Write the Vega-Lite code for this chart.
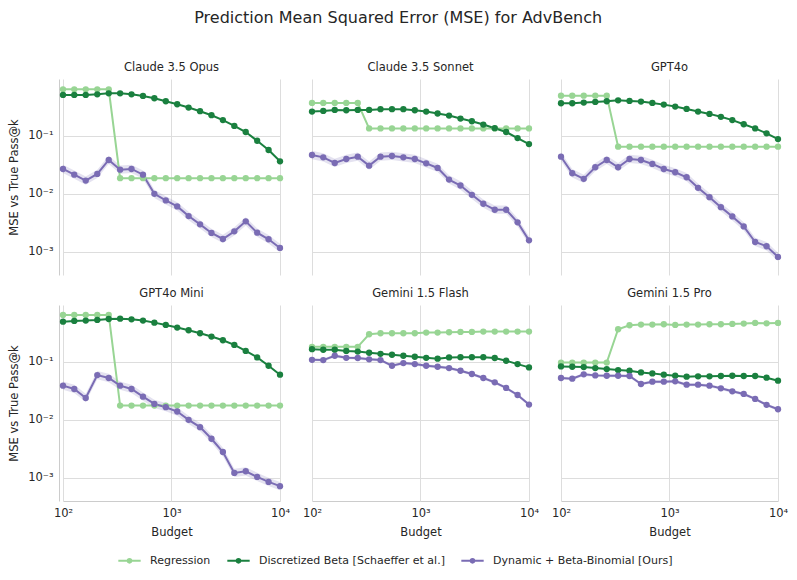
{
"$schema": "https://vega.github.io/schema/vega-lite/v6.json",
"title": {"text": "Prediction Mean Squared Error (MSE) for AdvBench", "fontSize": 16, "font": "DejaVu Sans", "fontWeight": "normal", "color": "#262626", "anchor": "middle", "offset": 36},
"padding": {"left": 8, "top": 9, "right": 5, "bottom": 5},
"data": {"values": [
{"m":"Claude 3.5 Opus","k":100,"a":0.63,"b":0.505,"c":0.0268,"lo":0.0228,"hi":0.0316},
{"m":"Claude 3.5 Opus","k":127,"a":0.63,"b":0.505,"c":0.0214,"lo":0.0182,"hi":0.0253},
{"m":"Claude 3.5 Opus","k":162,"a":0.63,"b":0.505,"c":0.0169,"lo":0.0144,"hi":0.0199},
{"m":"Claude 3.5 Opus","k":207,"a":0.63,"b":0.518,"c":0.022,"lo":0.0187,"hi":0.026},
{"m":"Claude 3.5 Opus","k":264,"a":0.63,"b":0.538,"c":0.0383,"lo":0.0326,"hi":0.0452},
{"m":"Claude 3.5 Opus","k":336,"a":0.0186,"b":0.538,"c":0.0261,"lo":0.0222,"hi":0.0308},
{"m":"Claude 3.5 Opus","k":428,"a":0.0186,"b":0.518,"c":0.0268,"lo":0.0228,"hi":0.0316},
{"m":"Claude 3.5 Opus","k":546,"a":0.0186,"b":0.485,"c":0.0214,"lo":0.0182,"hi":0.0253},
{"m":"Claude 3.5 Opus","k":695,"a":0.0186,"b":0.443,"c":0.01,"lo":0.0085,"hi":0.0118},
{"m":"Claude 3.5 Opus","k":886,"a":0.0186,"b":0.393,"c":0.00769,"lo":0.00654,"hi":0.00907},
{"m":"Claude 3.5 Opus","k":1129,"a":0.0186,"b":0.349,"c":0.00607,"lo":0.00516,"hi":0.00716},
{"m":"Claude 3.5 Opus","k":1438,"a":0.0186,"b":0.306,"c":0.00414,"lo":0.00352,"hi":0.00489},
{"m":"Claude 3.5 Opus","k":1833,"a":0.0186,"b":0.265,"c":0.00298,"lo":0.00253,"hi":0.00352},
{"m":"Claude 3.5 Opus","k":2336,"a":0.0186,"b":0.226,"c":0.00212,"lo":0.0018,"hi":0.0025},
{"m":"Claude 3.5 Opus","k":2976,"a":0.0186,"b":0.186,"c":0.00167,"lo":0.00142,"hi":0.00197},
{"m":"Claude 3.5 Opus","k":3793,"a":0.0186,"b":0.148,"c":0.00226,"lo":0.00192,"hi":0.00267},
{"m":"Claude 3.5 Opus","k":4833,"a":0.0186,"b":0.116,"c":0.00336,"lo":0.00286,"hi":0.00396},
{"m":"Claude 3.5 Opus","k":6159,"a":0.0186,"b":0.082,"c":0.00214,"lo":0.00182,"hi":0.00253},
{"m":"Claude 3.5 Opus","k":7848,"a":0.0186,"b":0.0568,"c":0.00165,"lo":0.0014,"hi":0.00195},
{"m":"Claude 3.5 Opus","k":10000,"a":0.0186,"b":0.0363,"c":0.00117,"lo":0.00099,"hi":0.00138},
{"m":"Claude 3.5 Sonnet","k":100,"a":0.368,"b":0.261,"c":0.0466,"lo":0.0396,"hi":0.055},
{"m":"Claude 3.5 Sonnet","k":127,"a":0.368,"b":0.268,"c":0.0425,"lo":0.0361,"hi":0.0502},
{"m":"Claude 3.5 Sonnet","k":162,"a":0.368,"b":0.279,"c":0.034,"lo":0.0289,"hi":0.0401},
{"m":"Claude 3.5 Sonnet","k":207,"a":0.368,"b":0.275,"c":0.0398,"lo":0.0338,"hi":0.047},
{"m":"Claude 3.5 Sonnet","k":264,"a":0.368,"b":0.279,"c":0.0436,"lo":0.0371,"hi":0.0514},
{"m":"Claude 3.5 Sonnet","k":336,"a":0.134,"b":0.279,"c":0.0306,"lo":0.026,"hi":0.0361},
{"m":"Claude 3.5 Sonnet","k":428,"a":0.134,"b":0.287,"c":0.0436,"lo":0.0371,"hi":0.0514},
{"m":"Claude 3.5 Sonnet","k":546,"a":0.134,"b":0.287,"c":0.0448,"lo":0.0381,"hi":0.0529},
{"m":"Claude 3.5 Sonnet","k":695,"a":0.134,"b":0.287,"c":0.0425,"lo":0.0361,"hi":0.0502},
{"m":"Claude 3.5 Sonnet","k":886,"a":0.134,"b":0.275,"c":0.0398,"lo":0.0338,"hi":0.047},
{"m":"Claude 3.5 Sonnet","k":1129,"a":0.134,"b":0.261,"c":0.0335,"lo":0.0285,"hi":0.0395},
{"m":"Claude 3.5 Sonnet","k":1438,"a":0.134,"b":0.242,"c":0.0279,"lo":0.0237,"hi":0.0329},
{"m":"Claude 3.5 Sonnet","k":1833,"a":0.134,"b":0.223,"c":0.0176,"lo":0.015,"hi":0.0208},
{"m":"Claude 3.5 Sonnet","k":2336,"a":0.134,"b":0.198,"c":0.0139,"lo":0.0118,"hi":0.0164},
{"m":"Claude 3.5 Sonnet","k":2976,"a":0.134,"b":0.178,"c":0.00962,"lo":0.00818,"hi":0.0114},
{"m":"Claude 3.5 Sonnet","k":3793,"a":0.134,"b":0.156,"c":0.00674,"lo":0.00573,"hi":0.00795},
{"m":"Claude 3.5 Sonnet","k":4833,"a":0.134,"b":0.135,"c":0.00532,"lo":0.00452,"hi":0.00628},
{"m":"Claude 3.5 Sonnet","k":6159,"a":0.134,"b":0.116,"c":0.00532,"lo":0.00452,"hi":0.00628},
{"m":"Claude 3.5 Sonnet","k":7848,"a":0.134,"b":0.0912,"c":0.00323,"lo":0.00275,"hi":0.00381},
{"m":"Claude 3.5 Sonnet","k":10000,"a":0.134,"b":0.072,"c":0.00158,"lo":0.00134,"hi":0.00186},
{"m":"GPT4o","k":100,"a":0.491,"b":0.363,"c":0.0436,"lo":0.0371,"hi":0.0514},
{"m":"GPT4o","k":127,"a":0.491,"b":0.363,"c":0.0226,"lo":0.0192,"hi":0.0267},
{"m":"GPT4o","k":162,"a":0.491,"b":0.373,"c":0.0181,"lo":0.0154,"hi":0.0214},
{"m":"GPT4o","k":207,"a":0.491,"b":0.383,"c":0.0287,"lo":0.0244,"hi":0.0339},
{"m":"GPT4o","k":264,"a":0.491,"b":0.393,"c":0.0383,"lo":0.0326,"hi":0.0452},
{"m":"GPT4o","k":336,"a":0.0648,"b":0.408,"c":0.0287,"lo":0.0244,"hi":0.0339},
{"m":"GPT4o","k":428,"a":0.0648,"b":0.398,"c":0.0398,"lo":0.0338,"hi":0.047},
{"m":"GPT4o","k":546,"a":0.0648,"b":0.388,"c":0.0383,"lo":0.0326,"hi":0.0452},
{"m":"GPT4o","k":695,"a":0.0648,"b":0.368,"c":0.0327,"lo":0.0278,"hi":0.0386},
{"m":"GPT4o","k":886,"a":0.0648,"b":0.344,"c":0.0268,"lo":0.0228,"hi":0.0316},
{"m":"GPT4o","k":1129,"a":0.0648,"b":0.318,"c":0.0235,"lo":0.02,"hi":0.0277},
{"m":"GPT4o","k":1438,"a":0.0648,"b":0.29,"c":0.0193,"lo":0.0164,"hi":0.0228},
{"m":"GPT4o","k":1833,"a":0.0648,"b":0.261,"c":0.0127,"lo":0.0108,"hi":0.015},
{"m":"GPT4o","k":2336,"a":0.0648,"b":0.238,"c":0.00877,"lo":0.00745,"hi":0.0103},
{"m":"GPT4o","k":2976,"a":0.0648,"b":0.212,"c":0.0059,"lo":0.00502,"hi":0.00696},
{"m":"GPT4o","k":3793,"a":0.0648,"b":0.186,"c":0.00408,"lo":0.00347,"hi":0.00481},
{"m":"GPT4o","k":4833,"a":0.0648,"b":0.158,"c":0.00275,"lo":0.00234,"hi":0.00325},
{"m":"GPT4o","k":6159,"a":0.0648,"b":0.134,"c":0.00148,"lo":0.00126,"hi":0.00175},
{"m":"GPT4o","k":7848,"a":0.0648,"b":0.11,"c":0.00125,"lo":0.00106,"hi":0.00148},
{"m":"GPT4o","k":10000,"a":0.0648,"b":0.0877,"c":0.00082,"lo":0.0007,"hi":0.00097},
{"m":"GPT4o Mini","k":100,"a":0.64,"b":0.491,"c":0.0388,"lo":0.033,"hi":0.0458},
{"m":"GPT4o Mini","k":127,"a":0.64,"b":0.505,"c":0.034,"lo":0.0289,"hi":0.0401},
{"m":"GPT4o Mini","k":162,"a":0.64,"b":0.512,"c":0.0238,"lo":0.0202,"hi":0.0281},
{"m":"GPT4o Mini","k":207,"a":0.64,"b":0.525,"c":0.059,"lo":0.0502,"hi":0.0696},
{"m":"GPT4o Mini","k":264,"a":0.64,"b":0.546,"c":0.0525,"lo":0.0446,"hi":0.062},
{"m":"GPT4o Mini","k":336,"a":0.0176,"b":0.553,"c":0.0388,"lo":0.033,"hi":0.0458},
{"m":"GPT4o Mini","k":428,"a":0.0176,"b":0.538,"c":0.034,"lo":0.0289,"hi":0.0401},
{"m":"GPT4o Mini","k":546,"a":0.0176,"b":0.512,"c":0.0251,"lo":0.0213,"hi":0.0296},
{"m":"GPT4o Mini","k":695,"a":0.0176,"b":0.472,"c":0.0188,"lo":0.016,"hi":0.0222},
{"m":"GPT4o Mini","k":886,"a":0.0176,"b":0.431,"c":0.0165,"lo":0.014,"hi":0.0195},
{"m":"GPT4o Mini","k":1129,"a":0.0176,"b":0.388,"c":0.0139,"lo":0.0118,"hi":0.0164},
{"m":"GPT4o Mini","k":1438,"a":0.0176,"b":0.349,"c":0.01,"lo":0.0085,"hi":0.0118},
{"m":"GPT4o Mini","k":1833,"a":0.0176,"b":0.31,"c":0.00748,"lo":0.00636,"hi":0.00883},
{"m":"GPT4o Mini","k":2336,"a":0.0176,"b":0.272,"c":0.00472,"lo":0.00401,"hi":0.00557},
{"m":"GPT4o Mini","k":2976,"a":0.0176,"b":0.235,"c":0.00279,"lo":0.00237,"hi":0.00329},
{"m":"GPT4o Mini","k":3793,"a":0.0176,"b":0.195,"c":0.00122,"lo":0.00104,"hi":0.00144},
{"m":"GPT4o Mini","k":4833,"a":0.0176,"b":0.154,"c":0.0013,"lo":0.0011,"hi":0.00153},
{"m":"GPT4o Mini","k":6159,"a":0.0176,"b":0.119,"c":0.00104,"lo":0.00088,"hi":0.00123},
{"m":"GPT4o Mini","k":7848,"a":0.0176,"b":0.0853,"c":0.000853,"lo":0.000725,"hi":0.00101},
{"m":"GPT4o Mini","k":10000,"a":0.0176,"b":0.0599,"c":0.00072,"lo":0.00061,"hi":0.00085},
{"m":"Gemini 1.5 Flash","k":100,"a":0.181,"b":0.165,"c":0.108,"lo":0.102,"hi":0.114},
{"m":"Gemini 1.5 Flash","k":127,"a":0.181,"b":0.161,"c":0.107,"lo":0.101,"hi":0.113},
{"m":"Gemini 1.5 Flash","k":162,"a":0.181,"b":0.161,"c":0.127,"lo":0.119,"hi":0.135},
{"m":"Gemini 1.5 Flash","k":207,"a":0.181,"b":0.154,"c":0.117,"lo":0.11,"hi":0.124},
{"m":"Gemini 1.5 Flash","k":264,"a":0.181,"b":0.15,"c":0.116,"lo":0.109,"hi":0.123},
{"m":"Gemini 1.5 Flash","k":336,"a":0.298,"b":0.143,"c":0.11,"lo":0.103,"hi":0.117},
{"m":"Gemini 1.5 Flash","k":428,"a":0.31,"b":0.137,"c":0.107,"lo":0.101,"hi":0.113},
{"m":"Gemini 1.5 Flash","k":546,"a":0.31,"b":0.132,"c":0.0853,"lo":0.0802,"hi":0.0904},
{"m":"Gemini 1.5 Flash","k":695,"a":0.31,"b":0.127,"c":0.0948,"lo":0.0891,"hi":0.1},
{"m":"Gemini 1.5 Flash","k":886,"a":0.31,"b":0.122,"c":0.0912,"lo":0.0857,"hi":0.0967},
{"m":"Gemini 1.5 Flash","k":1129,"a":0.318,"b":0.117,"c":0.0853,"lo":0.0802,"hi":0.0904},
{"m":"Gemini 1.5 Flash","k":1438,"a":0.318,"b":0.113,"c":0.082,"lo":0.0771,"hi":0.0869},
{"m":"Gemini 1.5 Flash","k":1833,"a":0.322,"b":0.119,"c":0.0778,"lo":0.0731,"hi":0.0825},
{"m":"Gemini 1.5 Flash","k":2336,"a":0.327,"b":0.12,"c":0.0701,"lo":0.0659,"hi":0.0743},
{"m":"Gemini 1.5 Flash","k":2976,"a":0.327,"b":0.12,"c":0.0615,"lo":0.0578,"hi":0.0652},
{"m":"Gemini 1.5 Flash","k":3793,"a":0.331,"b":0.12,"c":0.0525,"lo":0.0494,"hi":0.0557},
{"m":"Gemini 1.5 Flash","k":4833,"a":0.331,"b":0.116,"c":0.0442,"lo":0.0415,"hi":0.0469},
{"m":"Gemini 1.5 Flash","k":6159,"a":0.331,"b":0.104,"c":0.0354,"lo":0.0333,"hi":0.0375},
{"m":"Gemini 1.5 Flash","k":7848,"a":0.331,"b":0.0912,"c":0.0268,"lo":0.0252,"hi":0.0284},
{"m":"Gemini 1.5 Flash","k":10000,"a":0.331,"b":0.08,"c":0.0183,"lo":0.0172,"hi":0.0194},
{"m":"Gemini 1.5 Pro","k":100,"a":0.097,"b":0.0832,"c":0.0525,"lo":0.0494,"hi":0.0557},
{"m":"Gemini 1.5 Pro","k":127,"a":0.097,"b":0.082,"c":0.0512,"lo":0.0481,"hi":0.0543},
{"m":"Gemini 1.5 Pro","k":162,"a":0.097,"b":0.081,"c":0.0607,"lo":0.0571,"hi":0.0643},
{"m":"Gemini 1.5 Pro","k":207,"a":0.097,"b":0.0778,"c":0.0583,"lo":0.0548,"hi":0.0618},
{"m":"Gemini 1.5 Pro","k":264,"a":0.097,"b":0.0748,"c":0.0575,"lo":0.0541,"hi":0.061},
{"m":"Gemini 1.5 Pro","k":336,"a":0.363,"b":0.072,"c":0.0575,"lo":0.0541,"hi":0.061},
{"m":"Gemini 1.5 Pro","k":428,"a":0.425,"b":0.0701,"c":0.0568,"lo":0.0534,"hi":0.0602},
{"m":"Gemini 1.5 Pro","k":546,"a":0.437,"b":0.0656,"c":0.0414,"lo":0.0389,"hi":0.0439},
{"m":"Gemini 1.5 Pro","k":695,"a":0.437,"b":0.0631,"c":0.0454,"lo":0.0427,"hi":0.0481},
{"m":"Gemini 1.5 Pro","k":886,"a":0.443,"b":0.0599,"c":0.0454,"lo":0.0427,"hi":0.0481},
{"m":"Gemini 1.5 Pro","k":1129,"a":0.431,"b":0.0575,"c":0.046,"lo":0.0432,"hi":0.0488},
{"m":"Gemini 1.5 Pro","k":1438,"a":0.437,"b":0.0553,"c":0.0403,"lo":0.0379,"hi":0.0427},
{"m":"Gemini 1.5 Pro","k":1833,"a":0.437,"b":0.0561,"c":0.0403,"lo":0.0379,"hi":0.0427},
{"m":"Gemini 1.5 Pro","k":2336,"a":0.443,"b":0.0561,"c":0.0388,"lo":0.0365,"hi":0.0411},
{"m":"Gemini 1.5 Pro","k":2976,"a":0.443,"b":0.0568,"c":0.0349,"lo":0.0328,"hi":0.037},
{"m":"Gemini 1.5 Pro","k":3793,"a":0.449,"b":0.0575,"c":0.031,"lo":0.0291,"hi":0.0329},
{"m":"Gemini 1.5 Pro","k":4833,"a":0.455,"b":0.0568,"c":0.0279,"lo":0.0262,"hi":0.0296},
{"m":"Gemini 1.5 Pro","k":6159,"a":0.466,"b":0.0568,"c":0.0229,"lo":0.0215,"hi":0.0243},
{"m":"Gemini 1.5 Pro","k":7848,"a":0.46,"b":0.0532,"c":0.0181,"lo":0.017,"hi":0.0192},
{"m":"Gemini 1.5 Pro","k":10000,"a":0.466,"b":0.0472,"c":0.0152,"lo":0.0143,"hi":0.0161}
]},
"facet": {"field": "m", "type": "nominal", "sort": ["Claude 3.5 Opus", "Claude 3.5 Sonnet", "GPT4o", "GPT4o Mini", "Gemini 1.5 Flash", "Gemini 1.5 Pro"], "header": {"title": null, "labelFontSize": 11.5, "labelFont": "DejaVu Sans", "labelColor": "#262626", "labelPadding": 6}},
"columns": 3,
"spacing": {"row": 12, "column": 24},
"spec": {
  "width": 217,
  "height": 196,
  "encoding": {
    "x": {"field": "k", "type": "quantitative", "title": "Budget",
      "scale": {"type": "log", "domain": [100, 10000], "nice": false},
      "axis": {"values": [100, 1000, 10000], "labelExpr": "datum.value == 100 ? '10²' : datum.value == 1000 ? '10³' : '10⁴'", "labelFlush": false, "titlePadding": 8}}
  },
  "layer": [
    {"mark": {"type": "area", "color": "#7a6cb4", "opacity": 0.2},
     "encoding": {
       "y": {"field": "lo", "type": "quantitative", "title": "MSE vs True Pass@k",
         "scale": {"type": "log", "domain": [0.0004, 0.95], "nice": false},
         "axis": {"values": [0.001, 0.01, 0.1], "labelExpr": "datum.value < 0.005 ? '10⁻³' : datum.value < 0.05 ? '10⁻²' : '10⁻¹'", "titlePadding": 8}},
       "y2": {"field": "hi"}}},
    {"transform": [{"fold": ["a", "b", "c"], "as": ["s", "v"]}],
     "mark": {"type": "line", "strokeWidth": 2},
     "encoding": {
       "y": {"field": "v", "type": "quantitative", "title": "MSE vs True Pass@k"},
       "color": {"field": "s", "type": "nominal", "scale": {"domain": ["a", "b", "c"], "range": ["#98d594", "#1a803f", "#7a6cb4"]},
         "legend": {"title": null, "orient": "none", "legendX": 54, "legendY": 469, "labelLimit": 0, "labelExpr": "datum.value == 'a' ? 'Regression' : datum.value == 'b' ? 'Discretized Beta [Schaeffer et al.]' : 'Dynamic + Beta-Binomial [Ours]'"}}}},
    {"transform": [{"fold": ["a", "b", "c"], "as": ["s", "v"]}],
     "mark": {"type": "point", "filled": true, "size": 40, "opacity": 1},
     "encoding": {
       "y": {"field": "v", "type": "quantitative", "title": "MSE vs True Pass@k"},
       "color": {"field": "s", "type": "nominal"},
       "order": {"field": "s"}}}
  ]
},
"config": {
  "view": {"stroke": null},
  "font": "DejaVu Sans",
  "axis": {"domainColor": "#cccccc", "gridColor": "#dddddd", "ticks": false, "labelFont": "DejaVu Sans", "labelFontSize": 11.5, "labelColor": "#262626", "titleFont": "DejaVu Sans", "titleFontSize": 11.5, "titleFontWeight": "normal", "titleColor": "#262626", "labelPadding": 6},
  "legend": {"direction": "horizontal", "labelFont": "DejaVu Sans", "labelFontSize": 11, "labelColor": "#262626", "columnPadding": 12, "labelOffset": 8, "symbolType": "M-1,0L1,0M-0.16,0A0.16,0.16,0,1,1,0.16,0A0.16,0.16,0,1,1,-0.16,0Z", "symbolSize": 500, "symbolStrokeWidth": 2}
}
}
